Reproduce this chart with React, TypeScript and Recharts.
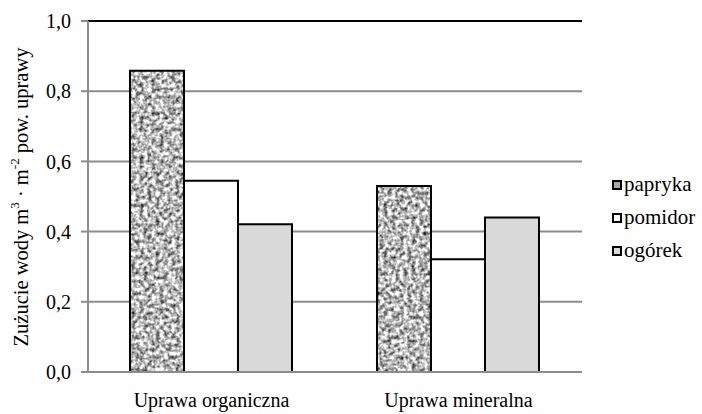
import React from "react";
import {
  BarChart, Bar, XAxis, YAxis, CartesianGrid, Legend, Label, ReferenceLine
} from "recharts";

const categories = ["Uprawa organiczna", "Uprawa mineralna"];
const papryka = [0.858, 0.53];
const pomidor = [0.545, 0.321];
const ogorek = [0.421, 0.44];
const seriesNames = ["papryka", "pomidor", "ogórek"];
const yTicks = [0, 0.2, 0.4, 0.6, 0.8, 1.0];

const fills = ["url(#speck)", "#ffffff", "#d9d9d9"];
const legendFills = ["#a8a8a8", "#ffffff", "#d9d9d9"];
const keys = ["papryka", "pomidor", "ogorek"];

const data = categories.map((c, i) => ({
  name: c,
  papryka: papryka[i],
  pomidor: pomidor[i],
  ogorek: ogorek[i],
}));

const FONT = "Liberation Serif";

function YTitle() {
  return (
    <text
      x={21}
      y={197}
      transform="rotate(-90 21 197)"
      textAnchor="middle"
      dominantBaseline="central"
      fontFamily={FONT}
      fontSize={20.5}
      fill="#000"
    >
      Zużucie wody m<tspan dy={-7} fontSize={13}>3</tspan>
      <tspan dy={7}> · m</tspan>
      <tspan dy={-7} fontSize={13}>-2</tspan>
      <tspan dy={7}> pow. uprawy</tspan>
    </text>
  );
}

function LegendBox() {
  return (
    <div style={{ fontFamily: FONT, fontSize: 21, color: "#000" }}>
      {seriesNames.map((n, i) => (
        <div key={n} style={{ display: "flex", alignItems: "center", height: 33 }}>
          <span
            style={{
              display: "inline-block",
              width: 6,
              height: 6,
              border: "2px solid #000",
              background: legendFills[i],
              marginRight: 2,
            }}
          />
          <span>{n}</span>
        </div>
      ))}
    </div>
  );
}

const tickStyle = { fill: "#000", fontSize: 20, fontFamily: FONT };

export default function App() {
  return (
    <div
      style={{
        position: "absolute", left: 0, top: 0, width: 702, height: 414,
        background: "#fff", fontFamily: FONT,
      }}
    >
      <BarChart
        width={702}
        height={414}
        data={data}
        margin={{ top: 21, right: 120, bottom: 0, left: 0 }}
        barGap={0}
        barCategoryGap="17%"
      >
        <defs>
          <filter id="nz" x="0" y="0" width="100%" height="100%" colorInterpolationFilters="sRGB">
            <feTurbulence type="fractalNoise" baseFrequency="0.25" numOctaves={2} seed={4} />
            <feColorMatrix
              type="matrix"
              values="1.6 0 0 0 -0.08  1.6 0 0 0 -0.08  1.6 0 0 0 -0.08  0 0 0 0 1"
            />
          </filter>
          <pattern id="speck" patternUnits="userSpaceOnUse" x={0} y={0} width={702} height={414}>
            <rect x={0} y={0} width={702} height={414} filter="url(#nz)" />
          </pattern>
        </defs>
        <CartesianGrid vertical={false} stroke="#8c8c8c" strokeWidth={2} />
        <XAxis
          xAxisId="marks"
          type="number"
          domain={[0, 2]}
          ticks={[0, 1, 2]}
          height={0}
          axisLine={false}
          tickLine={{ stroke: "#8c8c8c", strokeWidth: 2 }}
          tickSize={6}
          tickFormatter={() => ""}
        />
        <XAxis
          dataKey="name"
          height={42}
          axisLine={{ stroke: "#8c8c8c", strokeWidth: 2 }}
          tickLine={false}
          tickSize={0}
          tickMargin={21}
          tick={tickStyle}
        />
        <YAxis
          domain={[0, 1]}
          ticks={yTicks}
          width={88}
          axisLine={{ stroke: "#8c8c8c", strokeWidth: 2 }}
          tickLine={{ stroke: "#8c8c8c", strokeWidth: 2 }}
          tickSize={7}
          tickMargin={10}
          tick={tickStyle}
          tickFormatter={(v: number) => v.toFixed(1).replace(".", ",")}
        >
          <Label content={() => <YTitle />} />
        </YAxis>
        <YAxis
          yAxisId="right"
          orientation="right"
          domain={[0, 1]}
          width={0}
          axisLine={{ stroke: "#000", strokeWidth: 2 }}
          tickLine={false}
          tick={false}
        />
        <ReferenceLine y={1} stroke="#000" strokeWidth={2} />
        <Legend
          layout="vertical"
          align="center"
          verticalAlign="middle"
          wrapperStyle={{ left: 612, top: 168, width: 90 }}
          content={() => <LegendBox />}
        />
        {keys.map((k, i) => (
          <Bar
            key={k}
            dataKey={k}
            name={seriesNames[i]}
            fill={fills[i]}
            stroke="#000"
            strokeWidth={2}
            isAnimationActive={false}
          />
        ))}
      </BarChart>
    </div>
  );
}
